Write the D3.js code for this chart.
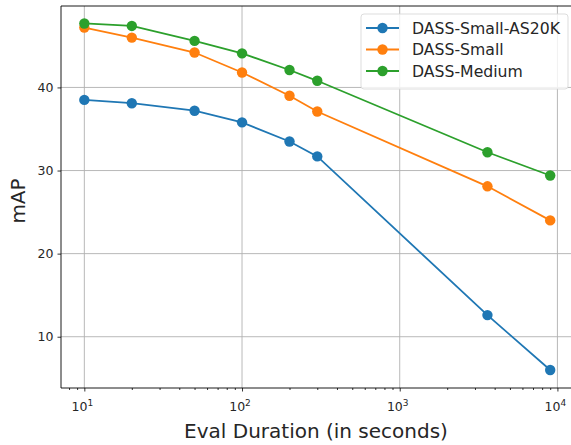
<!DOCTYPE html>
<html>
<head>
<meta charset="utf-8">
<script src="https://cdn.jsdelivr.net/npm/d3@7"></script>
<style>
  body { margin: 0; background: #fff; }
  svg { font-family: "DejaVu Sans", sans-serif; display: block; }
  .grid line { stroke: #b0b0b0; stroke-width: 0.9; }
</style>
</head>
<body>
<svg id="chart" width="571" height="445"></svg>
<script>
// ── Data ──────────────────────────────────────────────────────────────────
var durations = [10, 20, 50, 100, 200, 300, 3600, 9000];
var seriesNames = ['DASS-Small-AS20K', 'DASS-Small', 'DASS-Medium'];
var smallAS20K = [38.5, 38.1, 37.2, 35.8, 33.5, 31.7, 12.6, 6.0];
var small      = [47.2, 46.0, 44.2, 41.8, 39.0, 37.1, 28.1, 24.0];
var medium     = [47.7, 47.4, 45.6, 44.1, 42.1, 40.8, 32.2, 29.4];
var colors = ['#1f77b4', '#ff7f0e', '#2ca02c'];
var yTicks = [10, 20, 30, 40];
var xTicks = [10, 100, 1000, 10000];

(function () {
  'use strict';

  var svg = d3.select('#chart');
  var left = 61, right = 573.5, top = 6, bottom = 388;

  var x = d3.scaleLog().domain([Math.pow(10, 0.852), Math.pow(10, 4.102)]).range([left, right]);
  var y = d3.scaleLinear().domain([3.83, 49.8]).range([bottom, top]);

  // ── Grid ──────────────────────────────────────────────────────────────
  var grid = svg.append('g').attr('class', 'grid');
  grid.selectAll('line.gx').data(xTicks).join('line')
    .attr('x1', function (d) { return x(d); }).attr('x2', function (d) { return x(d); })
    .attr('y1', top).attr('y2', bottom);
  grid.selectAll('line.gy').data(yTicks).join('line')
    .attr('x1', left).attr('x2', right)
    .attr('y1', function (d) { return y(d); }).attr('y2', function (d) { return y(d); });

  // ── Axes ──────────────────────────────────────────────────────────────
  var minor = [];
  [1, 10, 100, 1000].forEach(function (p) {
    for (var k = 2; k <= 9; k++) {
      var v = p * k;
      if (v >= x.domain()[0] && v <= x.domain()[1]) minor.push(v);
    }
  });

  var xAxis = svg.append('g').attr('transform', 'translate(0,' + bottom + ')');
  xAxis.call(d3.axisBottom(x).tickValues(minor).tickSize(2).tickFormat(''));
  xAxis.call(function (g) {
    g.select('.domain').remove();
    g.selectAll('line').attr('stroke', '#000').attr('stroke-width', 0.8);
  });
  var xMajor = svg.append('g').attr('transform', 'translate(0,' + bottom + ')')
    .call(d3.axisBottom(x).tickValues(xTicks).tickSize(3.5).tickFormat(''));
  xMajor.select('.domain').remove();
  xMajor.selectAll('line').attr('stroke', '#000').attr('stroke-width', 0.8);

  var xLab = svg.append('g');
  xTicks.forEach(function (d) {
    var t = xLab.append('text')
      .attr('x', x(d) - 2).attr('y', bottom + 23)
      .attr('text-anchor', 'middle').attr('font-size', 12.5).attr('fill', '#262626');
    t.append('tspan').text('10');
    t.append('tspan').attr('dy', -5).attr('font-size', 9).text(String(Math.round(Math.log10(d))));
  });

  var yAxis = svg.append('g').attr('transform', 'translate(' + left + ',0)')
    .call(d3.axisLeft(y).tickValues(yTicks).tickSize(3.5).tickPadding(4));
  yAxis.select('.domain').remove();
  yAxis.selectAll('line').attr('stroke', '#000').attr('stroke-width', 0.8);
  yAxis.selectAll('text').attr('font-size', 12.5).attr('fill', '#262626')
    .attr('font-family', '"DejaVu Sans", sans-serif');

  // spines
  svg.append('line').attr('x1', left).attr('x2', right).attr('y1', bottom).attr('y2', bottom)
    .attr('stroke', '#000').attr('stroke-width', 0.9);
  svg.append('line').attr('x1', left).attr('x2', left).attr('y1', top).attr('y2', bottom)
    .attr('stroke', '#000').attr('stroke-width', 0.9);
  svg.append('line').attr('x1', left).attr('x2', right).attr('y1', top).attr('y2', top)
    .attr('stroke', '#000').attr('stroke-width', 0.9);

  // axis labels
  svg.append('text').attr('x', 316).attr('y', 438)
    .attr('text-anchor', 'middle').attr('font-size', 20).attr('fill', '#262626')
    .text('Eval Duration (in seconds)');
  svg.append('text').attr('transform', 'translate(25,201) rotate(-90)')
    .attr('text-anchor', 'middle').attr('font-size', 20).attr('fill', '#262626')
    .text('mAP');

  // ── Series ────────────────────────────────────────────────────────────
  var allSeries = [smallAS20K, small, medium];
  var line = d3.line()
    .x(function (d, i) { return x(durations[i]); })
    .y(function (d) { return y(d); });

  allSeries.forEach(function (vals, si) {
    var g = svg.append('g');
    g.append('path').datum(vals).attr('d', line)
      .attr('fill', 'none').attr('stroke', colors[si]).attr('stroke-width', 1.8);
    g.selectAll('circle').data(vals).join('circle')
      .attr('cx', function (d, i) { return x(durations[i]); })
      .attr('cy', function (d) { return y(d); })
      .attr('r', 5.2).attr('fill', colors[si]);
  });

  // ── Legend ────────────────────────────────────────────────────────────
  var lg = svg.append('g').attr('transform', 'translate(361,14)');
  lg.append('rect').attr('width', 207).attr('height', 75).attr('rx', 3)
    .attr('fill', 'rgba(255,255,255,0.8)').attr('stroke', '#d9d9d9').attr('stroke-width', 0.9);
  seriesNames.forEach(function (name, i) {
    var cy = 14 + i * 21.5;
    lg.append('line').attr('x1', 5).attr('x2', 38).attr('y1', cy).attr('y2', cy)
      .attr('stroke', colors[i]).attr('stroke-width', 1.8);
    lg.append('circle').attr('cx', 21.5).attr('cy', cy).attr('r', 5.2).attr('fill', colors[i]);
    lg.append('text').attr('x', 51).attr('y', cy + 5.5).attr('font-size', 15.7)
      .attr('fill', '#262626').text(name);
  });
})();
</script>
</body>
</html>
